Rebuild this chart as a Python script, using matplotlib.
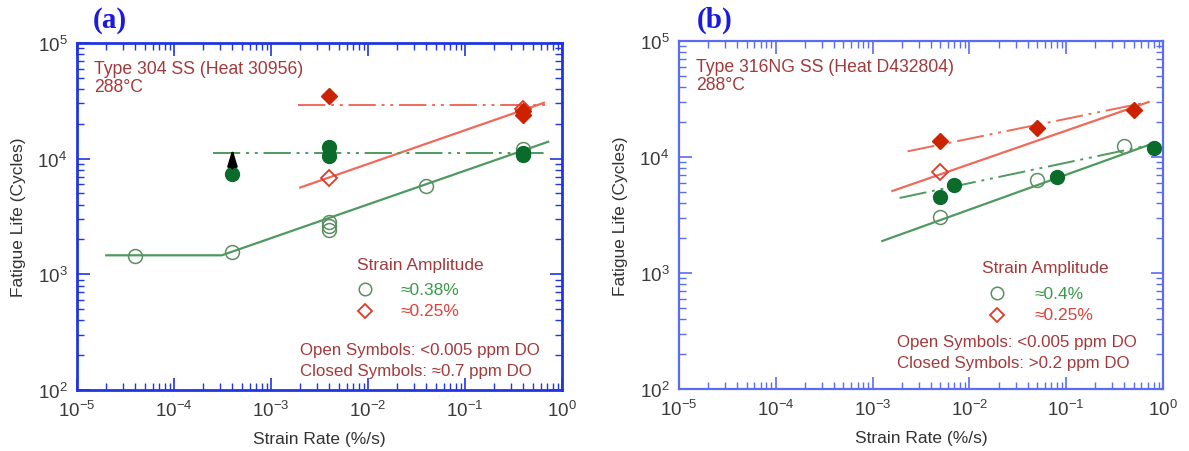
import numpy as np
import matplotlib.pyplot as plt

plt.rcParams['font.family'] = ['Liberation Sans', 'DejaVu Sans']

# ---- panel (a): Type 304 SS ----
a_g_open_x = [4e-5, 4e-4, 4e-3, 4e-3, 4e-3, 4e-2, 4e-1]
a_g_open_y = [1430, 1570, 2850, 2600, 2440, 5850, 12000]
a_g_closed_x = [4e-4, 4e-3, 4e-3, 4e-1, 4e-1]
a_g_closed_y = [7430, 12700, 10600, 10800, 11100]
a_r_open_x = [4e-3, 4e-1]
a_r_open_y = [6860, 27000]
a_r_closed_x = [4e-3, 4e-1, 4e-1]
a_r_closed_y = [34900, 24000, 25800]

a_g_fit_x = [2e-5, 3.1e-4, 0.72]
a_g_fit_y = [1460, 1460, 14000]
a_r_fit_x = [2.0e-3, 0.65]
a_r_fit_y = [5630, 30400]
a_g_do_x = [2.5e-4, 0.72]
a_g_do_y = [11300, 11300]
a_r_do_x = [1.9e-3, 0.72]
a_r_do_y = [29200, 29200]

# ---- panel (b): Type 316NG SS ----
b_g_open_x = [5e-3, 5e-2, 0.4]
b_g_open_y = [3040, 6310, 12400]
b_g_closed_x = [5e-3, 7e-3, 8e-2, 0.8]
b_g_closed_y = [4520, 5740, 6730, 12000]
b_r_open_x = [5e-3]
b_r_open_y = [7400]
b_r_closed_x = [5e-3, 5e-2, 0.5]
b_r_closed_y = [13700, 17800, 25400]

b_g_fit_x = [1.26e-3, 0.75]
b_g_fit_y = [1890, 12900]
b_r_fit_x = [1.6e-3, 0.71]
b_r_fit_y = [5100, 29800]
b_g_do_x = [1.9e-3, 0.8]
b_g_do_y = [4440, 12900]
b_r_do_x = [2.3e-3, 0.6]
b_r_do_y = [11200, 29000]

GREEN_DARK = '#0b6b2b'
GREEN_LINE = '#4e9a5e'
GREEN_OPEN = '#5b8f63'
RED_DARK = '#cc2200'
RED_LINE = '#f06a5a'
RED_OPEN = '#e03a2a'
TXT_RED = '#a23a3c'
DDOT = (14, 3, 1.5, 3, 1.5, 3)

fig = plt.figure(figsize=(11.89, 4.52), dpi=100)
ax_a = fig.add_axes([0.0648, 0.135, 0.4079, 0.7677])
ax_b = fig.add_axes([0.5711, 0.137, 0.4070, 0.7700])


def style_axes(ax, spine_col, lw):
    ax.set_xscale('log')
    ax.set_yscale('log')
    ax.set_xlim(1e-5, 1)
    ax.set_ylim(1e2, 1e5)
    for s in ax.spines.values():
        s.set_color(spine_col)
        s.set_linewidth(lw)
    ax.tick_params(which='both', direction='in', top=True, right=True,
                   color=spine_col, labelcolor='#3a3a3a', labelsize=13.5)
    ax.tick_params(which='major', length=9, width=1.2, pad=7)
    ax.tick_params(which='minor', length=5, width=1.0)
    ax.set_xlabel('Strain Rate (%/s)', fontsize=12.5, color='#333333', labelpad=8)
    ax.set_ylabel('Fatigue Life (Cycles)', fontsize=12.5, color='#333333', labelpad=8)


def draw_dd(ax, x, y, color):
    ax.plot(x, y, color=color, lw=1.4, dashes=DDOT)


# panel (a)
style_axes(ax_a, '#2035e0', 2.0)
ax_a.plot(a_g_fit_x, a_g_fit_y, color=GREEN_LINE, lw=1.6)
ax_a.plot(a_r_fit_x, a_r_fit_y, color=RED_LINE, lw=1.6)
draw_dd(ax_a, a_g_do_x, a_g_do_y, GREEN_LINE)
draw_dd(ax_a, a_r_do_x, a_r_do_y, RED_LINE)
ax_a.plot(a_g_open_x, a_g_open_y, 'o', ms=10, mfc='none', mec=GREEN_OPEN, mew=1.1)
ax_a.plot(a_r_open_x, a_r_open_y, 'D', ms=8, mfc='none', mec=RED_OPEN, mew=1.3)
ax_a.plot(a_g_closed_x, a_g_closed_y, 'o', ms=10, color=GREEN_DARK)
ax_a.plot(a_r_closed_x, a_r_closed_y, 'D', ms=8, color=RED_DARK)
ax_a.annotate('', xy=(4e-4, 12800), xytext=(4e-4, 7800),
              arrowprops=dict(arrowstyle='-|>,head_length=1.0,head_width=0.3',
                              color='black', lw=1.6))
ax_a.text(0.035, 0.95, 'Type 304 SS (Heat 30956)\n288°C', transform=ax_a.transAxes,
          fontsize=12.7, color=TXT_RED, va='top', linespacing=1.05)
ax_a.text(0.707, 0.363, 'Strain Amplitude', transform=ax_a.transAxes,
          fontsize=12.5, color=TXT_RED, ha='center', va='center')
ax_a.plot([0.594], [0.29], 'o', transform=ax_a.transAxes, ms=9, mfc='none',
          mec=GREEN_OPEN, mew=1.1, clip_on=False)
ax_a.plot([0.594], [0.228], 'D', transform=ax_a.transAxes, ms=7, mfc='none',
          mec=RED_OPEN, mew=1.3, clip_on=False)
ax_a.text(0.666, 0.29, '≈0.38%', transform=ax_a.transAxes, fontsize=12.5,
          color='#3a9a4a', va='center')
ax_a.text(0.666, 0.228, '≈0.25%', transform=ax_a.transAxes, fontsize=12.5,
          color='#e0403a', va='center')
ax_a.text(0.46, 0.085, 'Open Symbols: <0.005 ppm DO\nClosed Symbols: ≈0.7 ppm DO',
          transform=ax_a.transAxes, fontsize=12.2, color=TXT_RED, va='center',
          linespacing=1.5)

# panel (b)
style_axes(ax_b, '#5a6cf0', 1.6)
ax_b.plot(b_g_fit_x, b_g_fit_y, color=GREEN_LINE, lw=1.6)
ax_b.plot(b_r_fit_x, b_r_fit_y, color=RED_LINE, lw=1.6)
draw_dd(ax_b, b_g_do_x, b_g_do_y, GREEN_LINE)
draw_dd(ax_b, b_r_do_x, b_r_do_y, RED_LINE)
ax_b.plot(b_g_open_x, b_g_open_y, 'o', ms=10, mfc='none', mec=GREEN_OPEN, mew=1.1)
ax_b.plot(b_r_open_x, b_r_open_y, 'D', ms=8, mfc='none', mec=RED_OPEN, mew=1.3)
ax_b.plot(b_g_closed_x, b_g_closed_y, 'o', ms=10, color=GREEN_DARK)
ax_b.plot(b_r_closed_x, b_r_closed_y, 'D', ms=8, color=RED_DARK)
ax_b.text(0.035, 0.95, 'Type 316NG SS (Heat D432804)\n288°C', transform=ax_b.transAxes,
          fontsize=12.7, color=TXT_RED, va='top', linespacing=1.05)
ax_b.text(0.756, 0.35, 'Strain Amplitude', transform=ax_b.transAxes,
          fontsize=12.5, color=TXT_RED, ha='center', va='center')
ax_b.plot([0.657], [0.276], 'o', transform=ax_b.transAxes, ms=9, mfc='none',
          mec=GREEN_OPEN, mew=1.1, clip_on=False)
ax_b.plot([0.657], [0.213], 'D', transform=ax_b.transAxes, ms=7, mfc='none',
          mec=RED_OPEN, mew=1.3, clip_on=False)
ax_b.text(0.735, 0.276, '≈0.4%', transform=ax_b.transAxes, fontsize=12.5,
          color='#3a9a4a', va='center')
ax_b.text(0.735, 0.213, '≈0.25%', transform=ax_b.transAxes, fontsize=12.5,
          color='#e0403a', va='center')
ax_b.text(0.45, 0.106, 'Open Symbols: <0.005 ppm DO\nClosed Symbols: >0.2 ppm DO',
          transform=ax_b.transAxes, fontsize=12.2, color=TXT_RED, va='center',
          linespacing=1.45)

# panel letters
fig.text(0.078, 0.955, '(a)', fontsize=21, fontweight='bold', color='#1a1ae0',
         family='Liberation Serif', va='center')
fig.text(0.586, 0.955, '(b)', fontsize=21, fontweight='bold', color='#1a1ae0',
         family='Liberation Serif', va='center')

fig.savefig('out.png', dpi=100)
